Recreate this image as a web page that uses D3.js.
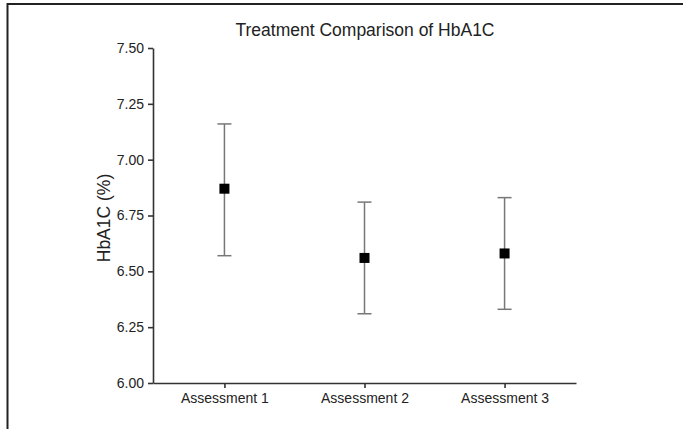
<!DOCTYPE html>
<html>
<head>
<meta charset="utf-8">
<script src="https://cdn.jsdelivr.net/npm/d3@7"></script>
<style>
  body { margin: 0; background: #fff; }
  svg { display: block; font-family: "Liberation Sans", Arial, sans-serif; }
  .axis path, .axis line { stroke: #333; stroke-width: 1.6; }
  .axis text { fill: #222; font-size: 14px; }
</style>
</head>
<body>
<div id="chart"></div>
<script>
// data
var assessments = ["Assessment 1", "Assessment 2", "Assessment 3"];
var means = [6.87, 6.56, 6.58];
var upper = [7.16, 6.81, 6.83];
var lower = [6.57, 6.31, 6.33];
var yTicks = [6.00, 6.25, 6.50, 6.75, 7.00, 7.25, 7.50];

var width = 683, height = 429;

var svg = d3.select("#chart").append("svg")
    .attr("width", width)
    .attr("height", height);

// frame round the figure (top and left edges only)
svg.append("line")
    .attr("x1", 7).attr("x2", width)
    .attr("y1", 4).attr("y2", 4)
    .attr("stroke", "#222").attr("stroke-width", 2);
svg.append("line")
    .attr("x1", 7.5).attr("x2", 7.5)
    .attr("y1", 3).attr("y2", height)
    .attr("stroke", "#222").attr("stroke-width", 2);

var x = d3.scalePoint()
    .domain(assessments)
    .range([153, 576])
    .padding(0.51);

var y = d3.scaleLinear()
    .domain([6, 7.5])
    .range([383, 48]);

// axes
svg.append("g")
    .attr("class", "axis")
    .attr("transform", "translate(0,383)")
    .call(d3.axisBottom(x).tickSizeInner(5).tickSizeOuter(0).tickPadding(5));

svg.append("g")
    .attr("class", "axis")
    .attr("transform", "translate(153,0)")
    .call(d3.axisLeft(y).tickValues(yTicks).tickFormat(d3.format(".2f"))
        .tickSizeInner(5).tickSizeOuter(0).tickPadding(4));

// error bars
var rows = assessments.map(function(a, i) {
    return { name: a, mean: means[i], hi: upper[i], lo: lower[i] };
});

var bars = svg.append("g").selectAll("g")
    .data(rows)
    .enter()
    .append("g");

bars.append("line")
    .attr("x1", function(d) { return x(d.name); })
    .attr("x2", function(d) { return x(d.name); })
    .attr("y1", function(d) { return y(d.hi); })
    .attr("y2", function(d) { return y(d.lo); })
    .attr("stroke", "#777").attr("stroke-width", 1.5);

["hi", "lo"].forEach(function(k) {
    bars.append("line")
        .attr("x1", function(d) { return x(d.name) - 7; })
        .attr("x2", function(d) { return x(d.name) + 7; })
        .attr("y1", function(d) { return y(d[k]); })
        .attr("y2", function(d) { return y(d[k]); })
        .attr("stroke", "#777").attr("stroke-width", 1.5);
});

bars.append("rect")
    .attr("x", function(d) { return x(d.name) - 5; })
    .attr("y", function(d) { return y(d.mean) - 5; })
    .attr("width", 10)
    .attr("height", 10)
    .attr("fill", "#000");

// title and axis label
svg.append("text")
    .text("Treatment Comparison of HbA1C")
    .attr("x", 365)
    .attr("y", 36)
    .attr("text-anchor", "middle")
    .attr("font-size", 17.5)
    .attr("fill", "#222");

svg.append("text")
    .text("HbA1C (%)")
    .attr("transform", "translate(110,218) rotate(-90)")
    .attr("text-anchor", "middle")
    .attr("font-size", 17.5)
    .attr("fill", "#222");
</script>
</body>
</html>
